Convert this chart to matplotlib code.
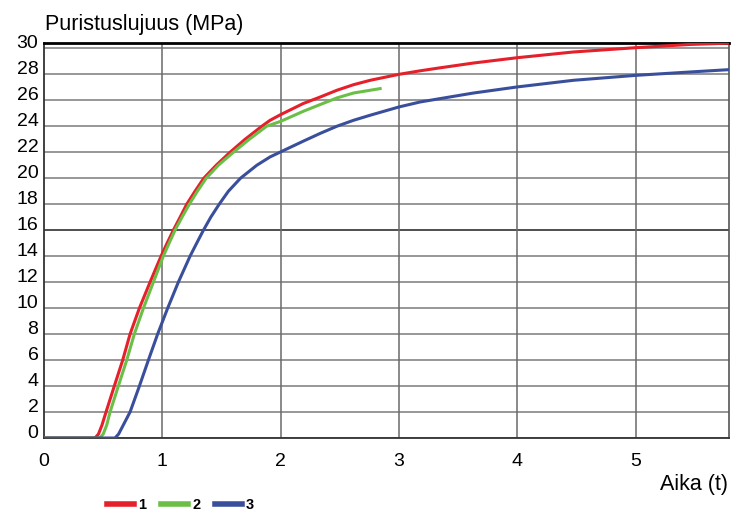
import numpy as np
import matplotlib.pyplot as plt
from matplotlib.lines import Line2D

plt.rcParams['font.family'] = ['Liberation Sans', 'DejaVu Sans']

# curve 1 (red)
x_1 = [0, 0.43, 0.46, 0.49, 0.524, 0.594, 0.665, 0.727, 0.806, 0.896, 0.989,
       1.04, 1.093, 1.15, 1.206, 1.276, 1.35, 1.455, 1.572, 1.699, 1.84,
       1.91, 2.0, 2.19, 2.333, 2.474, 2.615, 2.756, 3.0, 3.178, 3.347,
       3.629, 4.0, 4.474, 5.0, 5.46, 5.79]
y_1 = [0, 0, 0.3, 1.0, 2, 4, 6, 8, 10, 12, 14,
       15, 16, 17, 18, 19, 20, 21, 22, 23, 24,
       24.46, 24.9, 25.75, 26.25, 26.77, 27.2, 27.54, 28.0, 28.27, 28.5,
       28.87, 29.28, 29.72, 30.05, 30.3, 30.4]

# curve 2 (green)
x_2 = [0, 0.47, 0.5, 0.53, 0.558, 0.628, 0.699, 0.763, 0.84, 0.924, 1.008,
       1.057, 1.107, 1.166, 1.228, 1.296, 1.37, 1.473, 1.6, 1.735, 1.88,
       2.0, 2.19, 2.333, 2.474, 2.615, 2.84]
y_2 = [0, 0, 0.3, 1.0, 2, 4, 6, 8, 10, 12, 14,
       15, 16, 17, 18, 19, 20, 21, 22, 23, 24,
       24.38, 25.15, 25.67, 26.18, 26.56, 26.9]

# curve 3 (blue)
x_3 = [0, 0.6, 0.63, 0.67, 0.727, 0.806, 0.882, 0.96, 1.045, 1.135, 1.234,
       1.29, 1.347, 1.409, 1.48, 1.558, 1.66, 1.798, 1.91, 2.0, 2.19,
       2.333, 2.474, 2.615, 2.756, 3.0, 3.178, 3.347, 3.629, 4.0, 4.474,
       5.0, 5.46, 5.79]
y_3 = [0, 0, 0.3, 1.0, 2, 4, 6, 8, 10, 12, 14,
       15, 16, 17, 18, 19, 20, 21, 21.64, 22.03, 22.85,
       23.45, 24.0, 24.46, 24.85, 25.49, 25.87, 26.13, 26.56, 27.03, 27.54,
       27.92, 28.18, 28.36]

x_ticks = [0, 1, 2, 3, 4, 5]
y_ticks = list(range(0, 31, 2))
labels = ['1', '2', '3']
colors = ['#e5202b', '#6bbf47', '#3a4f9c']

fig = plt.figure(figsize=(7.31, 5.15), dpi=100)
ax = fig.add_axes([0.0602, 0.1495, 0.9375, 0.7675])

# grid
for yv in y_ticks:
    c = '#1e1e1e' if yv == 16 else '#7a7a7a'
    ax.axhline(yv, color=c, lw=1.1, zorder=1)
for xv in x_ticks[1:]:
    ax.axvline(xv, color='#6a6a6a', lw=1.1, zorder=1)

ax.plot(x_1, y_1, color=colors[0], lw=2.2, zorder=3, solid_joinstyle='round')
ax.plot(x_2, y_2, color=colors[1], lw=2.2, zorder=3, solid_joinstyle='round')
ax.plot(x_3, y_3, color=colors[2], lw=2.2, zorder=3, solid_joinstyle='round')

ax.set_xlim(0, 5.79)
ax.set_ylim(0, 30.43)
ax.set_xticks(x_ticks)
ax.set_yticks(y_ticks)
ax.tick_params(axis='both', length=0, labelsize=14)
ax.tick_params(axis='x', pad=11)
ax.tick_params(axis='y', pad=4)
for lab in ax.get_yticklabels():
    lab.set_verticalalignment('baseline')

for s in ['left', 'bottom']:
    ax.spines[s].set_color('#333333')
    ax.spines[s].set_linewidth(1.3)
ax.spines['top'].set_color('#000000')
ax.spines['top'].set_linewidth(2)
ax.spines['right'].set_color('#555555')
ax.spines['right'].set_linewidth(1.2)

fig.text(0.0616, 0.9417, 'Puristuslujuus (MPa)', fontsize=15.5, va='baseline', ha='left')
fig.text(0.996, 0.0485, 'Aika (t)', fontsize=15.5, va='baseline', ha='right')

handles = [Line2D([], [], color=c, lw=4) for c in colors]
fig.legend(handles, labels, loc='center left', bbox_to_anchor=(0.146, 0.02),
           ncol=3, frameon=False, handlelength=1.9, handletextpad=0.25,
           columnspacing=1.0, borderpad=0, borderaxespad=0,
           prop={'size': 10.5, 'weight': 'bold'})

fig.savefig('out.png', dpi=100)
